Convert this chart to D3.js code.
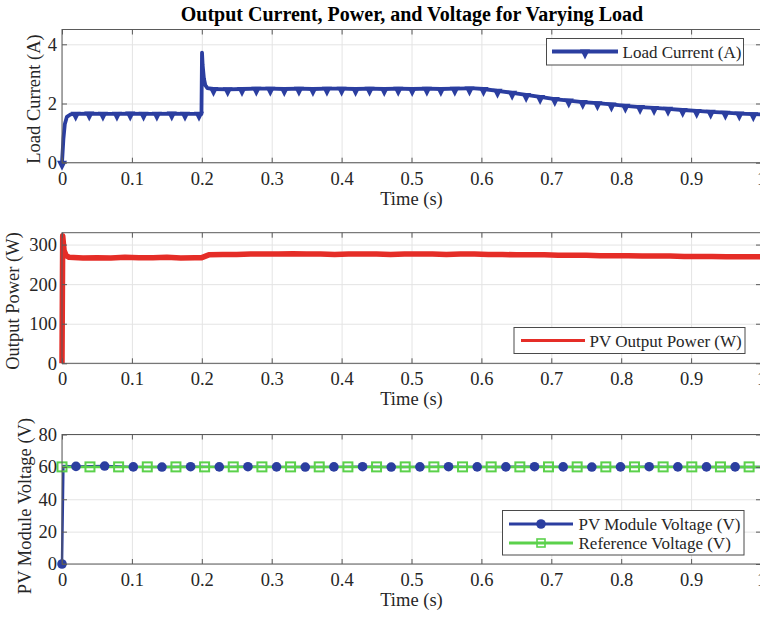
<!DOCTYPE html>
<html>
<head>
<meta charset="utf-8">
<script src="https://cdn.jsdelivr.net/npm/d3@7"></script>
<style>
  body { margin: 0; background: #fff; }
  text { font-family: "Liberation Serif", "Times New Roman", serif; fill: #262626; }
  .domain { display: none; }
</style>
</head>
<body>
<svg id="chart" width="760" height="617"></svg>
<script>
// Load current, samples where the triangle markers sit
const curT = [0, 0.0196, 0.039, 0.0586, 0.0786, 0.0976, 0.1167, 0.1357, 0.157, 0.176, 0.196,
  0.2167, 0.237, 0.2575, 0.278, 0.298, 0.318, 0.339, 0.359, 0.379, 0.4, 0.42, 0.44, 0.461, 0.481,
  0.501, 0.522, 0.542, 0.562, 0.583, 0.603, 0.623, 0.644, 0.664, 0.684, 0.705, 0.725, 0.745, 0.766,
  0.786, 0.806, 0.827, 0.847, 0.867, 0.888, 0.908, 0.928, 0.949, 0.969, 0.989]
const curV = [0, 1.65, 1.66, 1.65, 1.65, 1.66, 1.65, 1.65, 1.66, 1.65, 1.65,
  2.49, 2.48, 2.49, 2.5, 2.5, 2.49, 2.5, 2.49, 2.5, 2.5, 2.49, 2.5, 2.49, 2.5,
  2.49, 2.5, 2.49, 2.5, 2.51, 2.49, 2.43, 2.36, 2.29, 2.22, 2.15, 2.1, 2.05, 2.01,
  1.97, 1.92, 1.88, 1.85, 1.82, 1.78, 1.75, 1.72, 1.69, 1.66, 1.64]
// transients between markers (start-up, load step spike, end)
const curExtraT = [0.002, 0.004, 0.007, 0.012, 0.1995, 0.2003, 0.2012, 0.203, 0.205, 0.208, 0.59, 1.0]
const curExtraV = [0.8, 1.3, 1.55, 1.63, 1.65, 3.72, 3.3, 2.85, 2.62, 2.52, 2.51, 1.63]

// PV output power
const powT = [0, 0.001, 0.003, 0.006, 0.01, 0.03, 0.05, 0.07, 0.09, 0.11, 0.13, 0.15, 0.17, 0.19, 0.2,
  0.21, 0.23, 0.25, 0.27, 0.29, 0.31, 0.33, 0.35, 0.37, 0.39, 0.41, 0.43, 0.45, 0.47, 0.49,
  0.51, 0.53, 0.55, 0.57, 0.59, 0.61, 0.63, 0.65, 0.67, 0.69, 0.71, 0.73, 0.75, 0.77, 0.79,
  0.81, 0.83, 0.85, 0.87, 0.89, 0.91, 0.93, 0.95, 0.97, 0.99, 1.0]
const powV = [0, 322, 285, 272, 268, 266, 267, 266, 268, 267, 267, 268, 266, 267, 267,
  274, 275, 275, 276, 276, 276, 277, 276, 276, 275, 276, 276, 276, 275, 276,
  276, 276, 275, 276, 276, 275, 275, 274, 274, 274, 273, 273, 273, 272, 272,
  272, 271, 271, 271, 270, 270, 270, 269, 269, 269, 269]

// PV module voltage (circle markers) and reference (square markers)
const volT = [0, 0.020, 0.061, 0.102, 0.143, 0.184, 0.225, 0.266, 0.307, 0.348, 0.389, 0.430, 0.471,
  0.512, 0.553, 0.594, 0.635, 0.676, 0.717, 0.758, 0.799, 0.840, 0.881, 0.922, 0.963]
const volV = [0, 60.3, 60.5, 60.0, 59.9, 60.1, 60.0, 60.1, 60.0, 59.9, 60.0, 60.1, 59.9,
  60.0, 60.1, 60.0, 60.0, 60.1, 60.0, 59.9, 60.0, 60.1, 60.0, 60.0, 60.0]
const volExtraT = [0.002, 1.0]
const volExtraV = [60.5, 60.0]
const refT = [0, 0.040, 0.081, 0.122, 0.163, 0.204, 0.245, 0.286, 0.327, 0.368, 0.409, 0.450, 0.491,
  0.532, 0.573, 0.614, 0.655, 0.696, 0.737, 0.778, 0.819, 0.860, 0.901, 0.942, 0.983]
const refV = [60, 60, 60, 60, 60, 60, 60, 60, 60, 60, 60, 60, 60,
  60, 60, 60, 60, 60, 60, 60, 60, 60, 60, 60, 60]
const refExtraT = [1.0]
const refExtraV = [60]

const xTicks = [0, 0.1, 0.2, 0.3, 0.4, 0.5, 0.6, 0.7, 0.8, 0.9, 1]
const xTickLabels = ['0', '0.1', '0.2', '0.3', '0.4', '0.5', '0.6', '0.7', '0.8', '0.9', '1']

const blue = '#2b3ea0'
const red = '#e52d27'
const green = '#5bd14b'
const fs = '18.5px'

const svg = d3.select('#chart')
const left = 62, right = 761

const x = d3.scaleLinear().domain([0, 1]).range([left, right])

const panels = [
  { top: 29.5, bottom: 162.7, domain: [0, 4.5], ticks: [0, 2, 4], label: 'Load Current (A)', labelX: 40, labelY: 99 },
  { top: 232.7, bottom: 363.3, domain: [0, 330], ticks: [0, 100, 200, 300], label: 'Output Power (W)', labelX: 19, labelY: 301 },
  { top: 434.5, bottom: 564, domain: [0, 80], ticks: [0, 20, 40, 60, 80], label: 'PV Module Voltage (V)', labelX: 31, labelY: 506 }
]

function pairs(t, v) { return t.map((d, i) => [d, v[i]]) }
function merged(t, v, et, ev) {
  return pairs(t, v).concat(pairs(et, ev)).sort((a, b) => a[0] - b[0])
}

// title
svg.append('text')
  .attr('x', 412).attr('y', 21)
  .attr('text-anchor', 'middle')
  .style('font-weight', 'bold').style('font-size', '20px').style('fill', '#000')
  .text('Output Current, Power, and Voltage for Varying Load')

panels.forEach((p) => {
  p.y = d3.scaleLinear().domain(p.domain).range([p.bottom, p.top])
  const g = svg.append('g')
  const h = p.bottom - p.top

  // grid
  g.append('g').attr('transform', `translate(0,${p.bottom})`)
    .call(d3.axisBottom(x).tickValues(xTicks).tickSize(-h).tickFormat(''))
    .selectAll('line').attr('stroke', '#e4e4e4')
  g.append('g').attr('transform', `translate(${left},0)`)
    .call(d3.axisLeft(p.y).tickValues(p.ticks).tickSize(-(right - left)).tickFormat(''))
    .selectAll('line').attr('stroke', '#e4e4e4')

  p.g = g
})

function addLine(p, data, color, width) {
  p.g.append('path')
    .datum(data)
    .attr('fill', 'none')
    .attr('stroke', color)
    .attr('stroke-width', width)
    .attr('stroke-linejoin', 'round')
    .attr('d', d3.line().x(d => x(d[0])).y(d => p.y(d[1])))
}

const triPath = 'M-5,-2L5,-2L0,8Z'

// panel 1 - load current
const p1 = panels[0]
addLine(p1, merged(curT, curV, curExtraT, curExtraV), blue, 3.8)
p1.g.selectAll('.tri').data(pairs(curT, curV)).enter().append('path')
  .attr('class', 'tri')
  .attr('d', triPath)
  .attr('transform', d => `translate(${x(d[0])},${p1.y(d[1])})`)
  .attr('fill', blue)

// panel 2 - power
const p2 = panels[1]
addLine(p2, pairs(powT, powV), red, 5.5)

// panel 3 - voltages
const p3 = panels[2]
addLine(p3, merged(volT, volV, volExtraT, volExtraV), blue, 2.5)
addLine(p3, merged(refT, refV, refExtraT, refExtraV), green, 2.5)
p3.g.selectAll('.dot').data(pairs(volT, volV)).enter().append('circle')
  .attr('cx', d => x(d[0])).attr('cy', d => p3.y(d[1]))
  .attr('r', 4.8).attr('fill', blue)
p3.g.selectAll('.sq').data(pairs(refT, refV)).enter().append('rect')
  .attr('x', d => x(d[0]) - 4.5).attr('y', d => p3.y(d[1]) - 4.5)
  .attr('width', 9).attr('height', 9)
  .attr('fill', 'none').attr('stroke', green).attr('stroke-width', 2)

// axes boxes, ticks, labels
panels.forEach((p) => {
  const g = p.g
  g.append('rect')
    .attr('x', left).attr('y', p.top)
    .attr('width', right - left).attr('height', p.bottom - p.top)
    .attr('fill', 'none').attr('stroke', '#5a5a5a').attr('stroke-width', 1)

  const bottomAxis = g.append('g').attr('transform', `translate(0,${p.bottom})`)
    .call(d3.axisBottom(x).tickValues(xTicks).tickSize(-5).tickPadding(9)
      .tickFormat((d, i) => xTickLabels[i]))
  bottomAxis.selectAll('text').style('font-size', fs).attr('fill', '#262626')
  bottomAxis.selectAll('line').attr('stroke', '#5a5a5a')

  g.append('g').attr('transform', `translate(0,${p.top})`)
    .call(d3.axisTop(x).tickValues(xTicks).tickSize(-5).tickFormat(''))
    .selectAll('line').attr('stroke', '#5a5a5a')

  const leftAxis = g.append('g').attr('transform', `translate(${left},0)`)
    .call(d3.axisLeft(p.y).tickValues(p.ticks).tickSize(-5).tickPadding(5).tickFormat(d3.format('d')))
  leftAxis.selectAll('text').style('font-size', fs).attr('fill', '#262626')
  leftAxis.selectAll('line').attr('stroke', '#5a5a5a')

  g.append('g').attr('transform', `translate(${right},0)`)
    .call(d3.axisRight(p.y).tickValues(p.ticks).tickSize(-5).tickFormat(''))
    .selectAll('line').attr('stroke', '#5a5a5a')

  g.append('text')
    .attr('x', (left + right) / 2).attr('y', p.bottom + 42)
    .attr('text-anchor', 'middle').style('font-size', fs)
    .text('Time (s)')

  g.append('text')
    .attr('transform', `translate(${p.labelX},${p.labelY}) rotate(-90)`)
    .attr('text-anchor', 'middle').style('font-size', fs)
    .text(p.label)
})

// legends
function legendBox(x0, y0, w, h) {
  svg.append('rect').attr('x', x0).attr('y', y0).attr('width', w).attr('height', h)
    .attr('fill', '#fff').attr('stroke', '#4a4a4a').attr('stroke-width', 1)
}
function legendText(tx, ty, s) {
  svg.append('text').attr('x', tx).attr('y', ty).style('font-size', '17px').text(s)
}

legendBox(546.5, 38.5, 197, 26.5)
svg.append('line').attr('x1', 552).attr('x2', 618).attr('y1', 51.5).attr('y2', 51.5)
  .attr('stroke', blue).attr('stroke-width', 3.8)
svg.append('path').attr('d', triPath).attr('transform', 'translate(585,51.5)').attr('fill', blue)
legendText(622.5, 57.5, 'Load Current (A)')

legendBox(514, 327.5, 231, 26)
svg.append('line').attr('x1', 521).attr('x2', 585).attr('y1', 340.5).attr('y2', 340.5)
  .attr('stroke', red).attr('stroke-width', 3)
legendText(589.5, 346.5, 'PV Output Power (W)')

legendBox(502.5, 510.5, 241.5, 44.5)
svg.append('line').attr('x1', 509).attr('x2', 573).attr('y1', 524).attr('y2', 524)
  .attr('stroke', blue).attr('stroke-width', 3)
svg.append('circle').attr('cx', 541).attr('cy', 524).attr('r', 4.8).attr('fill', blue)
legendText(578.5, 530, 'PV Module Voltage (V)')
svg.append('line').attr('x1', 509).attr('x2', 573).attr('y1', 543).attr('y2', 543)
  .attr('stroke', green).attr('stroke-width', 3)
svg.append('rect').attr('x', 537).attr('y', 539).attr('width', 8).attr('height', 8)
  .attr('fill', 'none').attr('stroke', green).attr('stroke-width', 1.6)
legendText(578.5, 549, 'Reference Voltage (V)')
</script>
</body>
</html>
